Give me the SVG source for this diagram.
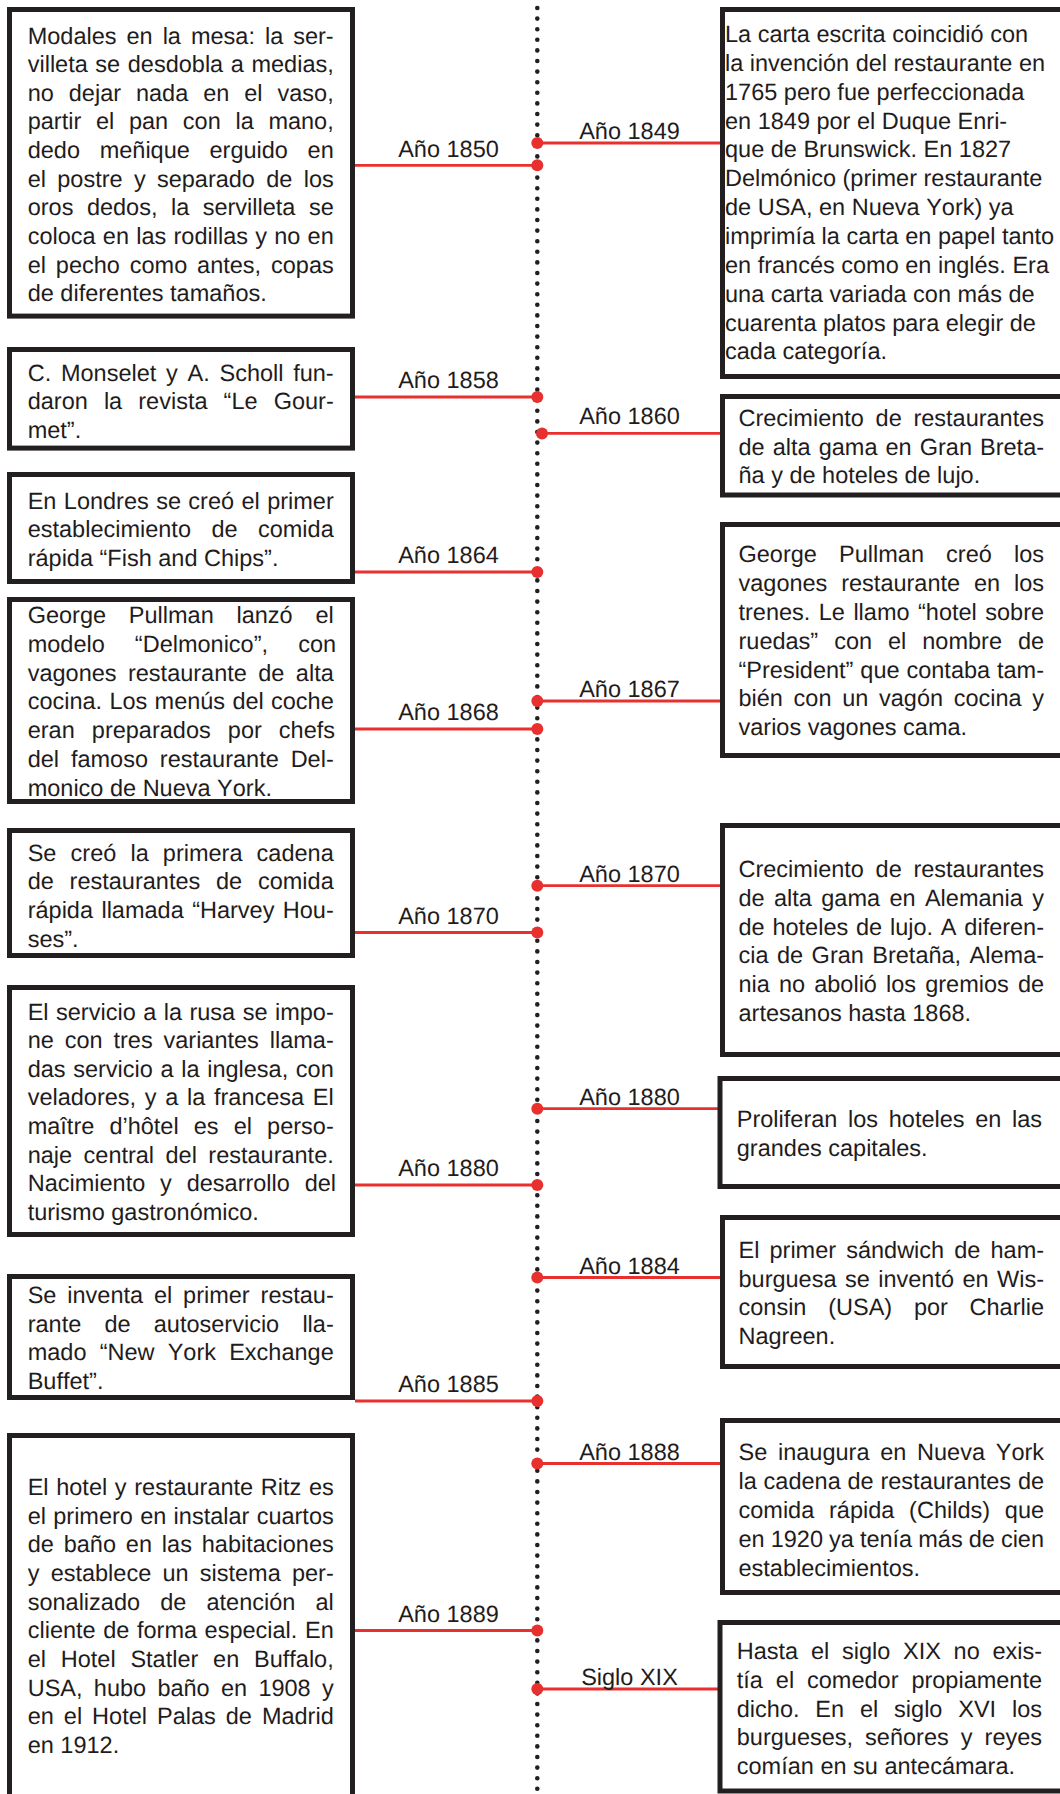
<svg xmlns="http://www.w3.org/2000/svg" width="1060" height="1794" viewBox="0 0 1060 1794">
  <style>
    .box { fill: #ffffff; stroke: #231f20; stroke-width: 5; }
    .t { font-family: "Liberation Sans", Arial, Helvetica, sans-serif; font-size: 23.5px; fill: #1f1c1d; font-kerning: none; text-rendering: geometricPrecision; }
    .lbl { text-anchor: middle; }
    .conn { stroke: #e8312f; stroke-width: 2.8; fill: none; }
    .dot { fill: #e8312f; }
    .axis { stroke: #231f20; stroke-width: 4.6; stroke-linecap: round; stroke-dasharray: 0 10.6; fill: none; }
  </style>

  <rect x="0" y="0" width="1060" height="1794" fill="#ffffff"/>

  <!-- timeline axis and year connectors -->
  <g id="connectors">
    <line class="axis" x1="537.3" y1="8" x2="537.3" y2="1792"/>

    <!-- left side events -->
    <g id="c-1850"><line class="conn" x1="355" y1="165.3" x2="537" y2="165.3"/><circle class="dot" cx="537.3" cy="165.3" r="6"/><text class="t lbl" x="448.5" y="156.6">Año 1850</text></g>
    <g id="c-1858"><line class="conn" x1="355" y1="397" x2="537" y2="397"/><circle class="dot" cx="537.3" cy="397" r="6"/><text class="t lbl" x="448.5" y="388.3">Año 1858</text></g>
    <g id="c-1864"><line class="conn" x1="355" y1="572" x2="537" y2="572"/><circle class="dot" cx="537.3" cy="572" r="6"/><text class="t lbl" x="448.5" y="563.2">Año 1864</text></g>
    <g id="c-1868"><line class="conn" x1="355" y1="729" x2="537" y2="729"/><circle class="dot" cx="537.3" cy="729" r="6"/><text class="t lbl" x="448.5" y="720.2">Año 1868</text></g>
    <g id="c-1870a"><line class="conn" x1="355" y1="932.5" x2="537" y2="932.5"/><circle class="dot" cx="537.3" cy="932.5" r="6"/><text class="t lbl" x="448.5" y="923.8">Año 1870</text></g>
    <g id="c-1880a"><line class="conn" x1="355" y1="1185" x2="537" y2="1185"/><circle class="dot" cx="537.3" cy="1185" r="6"/><text class="t lbl" x="448.5" y="1176.4">Año 1880</text></g>
    <g id="c-1885"><line class="conn" x1="355" y1="1401" x2="537" y2="1401"/><circle class="dot" cx="537.3" cy="1401" r="6"/><text class="t lbl" x="448.5" y="1392">Año 1885</text></g>
    <g id="c-1889"><line class="conn" x1="355" y1="1630.5" x2="537" y2="1630.5"/><circle class="dot" cx="537.3" cy="1630.5" r="6"/><text class="t lbl" x="448.5" y="1621.8">Año 1889</text></g>

    <!-- right side events -->
    <g id="c-1849"><line class="conn" x1="537" y1="143" x2="722" y2="143"/><circle class="dot" cx="537.3" cy="143" r="6"/><text class="t lbl" x="629.5" y="139">Año 1849</text></g>
    <g id="c-1860"><line class="conn" x1="542" y1="433.4" x2="722" y2="433.4"/><circle class="dot" cx="542" cy="433.4" r="6"/><text class="t lbl" x="629.5" y="424.3">Año 1860</text></g>
    <g id="c-1867"><line class="conn" x1="537" y1="701" x2="722" y2="701"/><circle class="dot" cx="537.3" cy="701" r="6"/><text class="t lbl" x="629.5" y="697.4">Año 1867</text></g>
    <g id="c-1870b"><line class="conn" x1="537" y1="885.7" x2="722" y2="885.7"/><circle class="dot" cx="537.3" cy="885.7" r="6"/><text class="t lbl" x="629.5" y="882">Año 1870</text></g>
    <g id="c-1880b"><line class="conn" x1="537" y1="1108.7" x2="719" y2="1108.7"/><circle class="dot" cx="537.3" cy="1108.7" r="6"/><text class="t lbl" x="629.5" y="1105.2">Año 1880</text></g>
    <g id="c-1884"><line class="conn" x1="537" y1="1277.5" x2="722" y2="1277.5"/><circle class="dot" cx="537.3" cy="1277.5" r="6"/><text class="t lbl" x="629.5" y="1274.3">Año 1884</text></g>
    <g id="c-1888"><line class="conn" x1="537" y1="1463.5" x2="722" y2="1463.5"/><circle class="dot" cx="537.3" cy="1463.5" r="6"/><text class="t lbl" x="629.5" y="1460">Año 1888</text></g>
    <g id="c-xix"><line class="conn" x1="537" y1="1689" x2="719" y2="1689"/><circle class="dot" cx="537.3" cy="1689" r="6"/><text class="t lbl" x="629.5" y="1685">Siglo XIX</text></g>
  </g>

  <!-- left column -->
  <g id="n-1850">
    <rect class="box" x="9.5" y="9.5" width="343" height="306.6"/>
    <text class="t" x="27.7" y="43.5" style="word-spacing:3.47px">Modales en la mesa: la ser-</text>
    <text class="t" x="27.7" y="72.15" style="word-spacing:1.07px">villeta se desdobla a medias,</text>
    <text class="t" x="27.7" y="100.8" style="word-spacing:8.42px">no dejar nada en el vaso,</text>
    <text class="t" x="27.7" y="129.45" style="word-spacing:8.17px">partir el pan con la mano,</text>
    <text class="t" x="27.7" y="158.1" style="word-spacing:13.17px">dedo meñique erguido en</text>
    <text class="t" x="27.7" y="186.75" style="word-spacing:4.77px">el postre y separado de los</text>
    <text class="t" x="27.7" y="215.4" style="word-spacing:6.95px">oros dedos, la servilleta se</text>
    <text class="t" x="27.7" y="244.05" style="word-spacing:0.71px">coloca en las rodillas y no en</text>
    <text class="t" x="27.7" y="272.7" style="word-spacing:3.35px">el pecho como antes, copas</text>
    <text class="t" x="27.7" y="301.35">de diferentes tamaños.</text>
  </g>

  <g id="n-1858">
    <rect class="box" x="9.5" y="349.5" width="343" height="98.6"/>
    <text class="t" x="27.7" y="380.5" style="word-spacing:3.21px">C. Monselet y A. Scholl fun-</text>
    <text class="t" x="27.7" y="409.2" style="word-spacing:9.57px">daron la revista “Le Gour-</text>
    <text class="t" x="27.7" y="437.9">met”.</text>
  </g>

  <g id="n-1864">
    <rect class="box" x="9.5" y="474.5" width="343" height="107"/>
    <text class="t" x="27.7" y="508.6" style="word-spacing:0.86px">En Londres se creó el primer</text>
    <text class="t" x="27.7" y="537.3" style="word-spacing:13.9px">establecimiento de comida</text>
    <text class="t" x="27.7" y="566">rápida “Fish and Chips”.</text>
  </g>

  <g id="n-1868">
    <rect class="box" x="9.5" y="599.5" width="343" height="202"/>
    <text class="t" x="27.7" y="623.3" style="word-spacing:16.23px">George Pullman lanzó el</text>
    <text class="t" x="27.7" y="652" style="word-spacing:23.56px">modelo “Delmonico”, con</text>
    <text class="t" x="27.7" y="680.7" style="word-spacing:4.9px">vagones restaurante de alta</text>
    <text class="t" x="27.7" y="709.4" style="word-spacing:0.74px">cocina. Los menús del coche</text>
    <text class="t" x="27.7" y="738.1" style="word-spacing:10.57px">eran preparados por chefs</text>
    <text class="t" x="27.7" y="766.8" style="word-spacing:5.35px">del famoso restaurante Del-</text>
    <text class="t" x="27.7" y="795.5">monico de Nueva York.</text>
  </g>

  <g id="n-1870a">
    <rect class="box" x="9.5" y="830.5" width="343" height="125"/>
    <text class="t" x="27.7" y="860.7" style="word-spacing:7.6px">Se creó la primera cadena</text>
    <text class="t" x="27.7" y="889.4" style="word-spacing:9.26px">de restaurantes de comida</text>
    <text class="t" x="27.7" y="918.1" style="word-spacing:1.88px">rápida llamada “Harvey Hou-</text>
    <text class="t" x="27.7" y="946.8">ses”.</text>
  </g>

  <g id="n-1880a">
    <rect class="box" x="9.5" y="987.5" width="343" height="247"/>
    <text class="t" x="27.7" y="1019.5" style="word-spacing:0.94px">El servicio a la rusa se impo-</text>
    <text class="t" x="27.7" y="1048.15" style="word-spacing:4.34px">ne con tres variantes llama-</text>
    <text class="t" x="27.7" y="1076.8" style="word-spacing:1.12px">das servicio a la inglesa, con</text>
    <text class="t" x="27.7" y="1105.45" style="word-spacing:2.16px">veladores, y a la francesa El</text>
    <text class="t" x="27.7" y="1134.1" style="word-spacing:8.59px">maître d’hôtel es el perso-</text>
    <text class="t" x="27.7" y="1162.75" style="word-spacing:4.91px">naje central del restaurante.</text>
    <text class="t" x="27.7" y="1191.4" style="word-spacing:8.32px">Nacimiento y desarrollo del</text>
    <text class="t" x="27.7" y="1220.05">turismo gastronómico.</text>
  </g>

  <g id="n-1885">
    <rect class="box" x="9.5" y="1276.5" width="343" height="121"/>
    <text class="t" x="27.7" y="1303" style="word-spacing:4.34px">Se inventa el primer restau-</text>
    <text class="t" x="27.7" y="1331.7" style="word-spacing:16.67px">rante de autoservicio lla-</text>
    <text class="t" x="27.7" y="1360.4" style="word-spacing:6.66px">mado “New York Exchange</text>
    <text class="t" x="27.7" y="1389.1">Buffet”.</text>
  </g>

  <g id="n-1889">
    <rect class="box" x="9.5" y="1435.5" width="343" height="400"/>
    <text class="t" x="27.7" y="1495" style="word-spacing:1.12px">El hotel y restaurante Ritz es</text>
    <text class="t" x="27.7" y="1523.65" style="word-spacing:0.75px">el primero en instalar cuartos</text>
    <text class="t" x="27.7" y="1552.3" style="word-spacing:3.34px">de baño en las habitaciones</text>
    <text class="t" x="27.7" y="1580.95" style="word-spacing:4.67px">y establece un sistema per-</text>
    <text class="t" x="27.7" y="1609.6" style="word-spacing:13.61px">sonalizado de atención al</text>
    <text class="t" x="27.7" y="1638.25" style="word-spacing:1.07px">cliente de forma especial. En</text>
    <text class="t" x="27.7" y="1666.9" style="word-spacing:8.25px">el Hotel Statler en Buffalo,</text>
    <text class="t" x="27.7" y="1695.55" style="word-spacing:4.76px">USA, hubo baño en 1908 y</text>
    <text class="t" x="27.7" y="1724.2" style="word-spacing:3.47px">en el Hotel Palas de Madrid</text>
    <text class="t" x="27.7" y="1752.85">en 1912.</text>
  </g>

  <!-- right column -->
  <g id="n-1849">
    <rect class="box" x="722.5" y="9.5" width="400" height="367"/>
    <text class="t" x="725" y="42">La carta escrita coincidió con</text>
    <text class="t" x="725" y="70.85">la invención del restaurante en</text>
    <text class="t" x="725" y="99.7">1765 pero fue perfeccionada</text>
    <text class="t" x="725" y="128.55">en 1849 por el Duque Enri-</text>
    <text class="t" x="725" y="157.4">que de Brunswick. En 1827</text>
    <text class="t" x="725" y="186.25">Delmónico (primer restaurante</text>
    <text class="t" x="725" y="215.1">de USA, en Nueva York) ya</text>
    <text class="t" x="725" y="243.95">imprimía la carta en papel tanto</text>
    <text class="t" x="725" y="272.8">en francés como en inglés. Era</text>
    <text class="t" x="725" y="301.65">una carta variada con más de</text>
    <text class="t" x="725" y="330.5">cuarenta platos para elegir de</text>
    <text class="t" x="725" y="359.35">cada categoría.</text>
  </g>

  <g id="n-1860">
    <rect class="box" x="722.5" y="396.5" width="400" height="98.5"/>
    <text class="t" x="738.5" y="425.8" style="word-spacing:5.17px">Crecimiento de restaurantes</text>
    <text class="t" x="738.5" y="454.6" style="word-spacing:1.54px">de alta gama en Gran Breta-</text>
    <text class="t" x="738.5" y="483.4">ña y de hoteles de lujo.</text>
  </g>

  <g id="n-1867">
    <rect class="box" x="722.5" y="524.5" width="400" height="231"/>
    <text class="t" x="738.5" y="562.3" style="word-spacing:15.64px">George Pullman creó los</text>
    <text class="t" x="738.5" y="591.1" style="word-spacing:7.35px">vagones restaurante en los</text>
    <text class="t" x="738.5" y="619.9" style="word-spacing:1.93px">trenes. Le llamo “hotel sobre</text>
    <text class="t" x="738.5" y="648.7" style="word-spacing:9.44px">ruedas” con el nombre de</text>
    <text class="t" x="738.5" y="677.5" style="word-spacing:0.39px">“President” que contaba tam-</text>
    <text class="t" x="738.5" y="706.3" style="word-spacing:4.15px">bién con un vagón cocina y</text>
    <text class="t" x="738.5" y="735.1">varios vagones cama.</text>
  </g>

  <g id="n-1870b">
    <rect class="box" x="722.5" y="825.5" width="400" height="229"/>
    <text class="t" x="738.5" y="877" style="word-spacing:5.17px">Crecimiento de restaurantes</text>
    <text class="t" x="738.5" y="905.8" style="word-spacing:2.84px">de alta gama en Alemania y</text>
    <text class="t" x="738.5" y="934.6" style="word-spacing:1.27px">de hoteles de lujo. A diferen-</text>
    <text class="t" x="738.5" y="963.4" style="word-spacing:1.93px">cia de Gran Bretaña, Alema-</text>
    <text class="t" x="738.5" y="992.2" style="word-spacing:2.58px">nia no abolió los gremios de</text>
    <text class="t" x="738.5" y="1021">artesanos hasta 1868.</text>
  </g>

  <g id="n-1880b">
    <rect class="box" x="720" y="1078.5" width="400" height="108"/>
    <text class="t" x="736.8" y="1127" style="word-spacing:4.14px">Proliferan los hoteles en las</text>
    <text class="t" x="736.8" y="1155.8">grandes capitales.</text>
  </g>

  <g id="n-1884">
    <rect class="box" x="722.5" y="1217.5" width="400" height="149"/>
    <text class="t" x="738.5" y="1257.8" style="word-spacing:3.57px">El primer sándwich de ham-</text>
    <text class="t" x="738.5" y="1286.6" style="word-spacing:1.93px">burguesa se inventó en Wis-</text>
    <text class="t" x="738.5" y="1315.4" style="word-spacing:15.21px">consin (USA) por Charlie</text>
    <text class="t" x="738.5" y="1344.2">Nagreen.</text>
  </g>

  <g id="n-1888">
    <rect class="box" x="722.5" y="1420.5" width="400" height="172"/>
    <text class="t" x="738.5" y="1460.3" style="word-spacing:4.21px">Se inaugura en Nueva York</text>
    <text class="t" x="738.5" y="1489.1" style="word-spacing:0.28px">la cadena de restaurantes de</text>
    <text class="t" x="738.5" y="1517.9" style="word-spacing:8.24px">comida rápida (Childs) que</text>
    <text class="t" x="738.5" y="1546.7" style="word-spacing:-0.47px">en 1920 ya tenía más de cien</text>
    <text class="t" x="738.5" y="1575.5">establecimientos.</text>
  </g>

  <g id="n-xix">
    <rect class="box" x="720" y="1622.5" width="400" height="168.5"/>
    <text class="t" x="736.8" y="1659" style="word-spacing:6.19px">Hasta el siglo XIX no exis-</text>
    <text class="t" x="736.8" y="1687.75" style="word-spacing:6.39px">tía el comedor propiamente</text>
    <text class="t" x="736.8" y="1716.5" style="word-spacing:9.32px">dicho. En el siglo XVI los</text>
    <text class="t" x="736.8" y="1745.25" style="word-spacing:5.52px">burgueses, señores y reyes</text>
    <text class="t" x="736.8" y="1774">comían en su antecámara.</text>
  </g>
</svg>
